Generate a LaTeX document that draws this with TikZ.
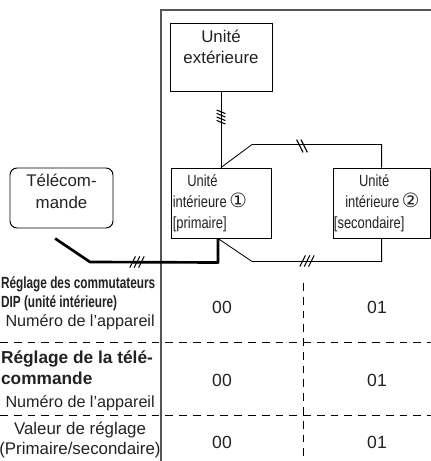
\documentclass[tikz,border=0pt]{standalone}
\usepackage{fontspec}
\setmainfont{Liberation Sans}
\newfontfamily\narrowfont[FakeStretch=0.8]{Liberation Sans}
\newfontfamily\condfont[FakeStretch=0.73]{Liberation Sans}
\newfontfamily\circfont{DejaVu Sans}
\usepackage{tikz}
\usetikzlibrary{positioning}
\definecolor{InkGray}{HTML}{222222}
\definecolor{FrameGray}{HTML}{555555}
\tikzset{
  unitbox/.style={
    draw=black,line width=0.7pt,fill=white,inner sep=0pt
  },
  remotebox/.style={
    draw=black,line width=0.7pt,rounded corners=5pt,inner sep=0pt,
    minimum width=2.575cm,minimum height=1.5cm
  },
  boxtext/.style={
    font=\fontsize{12}{15.5}\selectfont,text=InkGray,align=center,inner sep=0pt
  },
  unittext/.style={
    font=\narrowfont\fontsize{11.5}{15}\selectfont,text=InkGray,align=left,inner sep=0pt
  },
  wire/.style={draw=black,line width=0.6pt},
  thickwire/.style={draw=black,line width=1.9pt},
  slashmark/.style={draw=black,line width=0.75pt},
  gridline/.style={draw=black,line width=0.6pt,dash pattern=on 5.5pt off 4.3pt},
  frameline/.style={draw=FrameGray,line width=1pt},
  headtext/.style={text=InkGray,align=left,inner sep=0pt},
  celltext/.style={font=\fontsize{11.5}{14}\selectfont,text=InkGray,inner sep=0pt},
  valtext/.style={font=\fontsize{12.5}{15}\selectfont,text=InkGray,inner sep=0pt},
}
\newcommand{\circno}[1]{{\circfont\fontsize{14}{14}\selectfont #1}}

\begin{document}
\begin{tikzpicture}
  \useasboundingbox (0,0) rectangle (10.775,-11.525);
  \clip (0,0) rectangle (10.775,-11.525);
  % frame of the installation side
  \draw[frameline] (10.8,-0.25) -- (4.025,-0.25) -- (4.025,-11.6);
  % units
  \node[unitbox,minimum width=2.55cm,minimum height=1.7cm] (ext) at (5.525,-1.425) {};
  \node[boxtext,below=0.17cm of ext.north] (extlbl) {Unité\\extérieure};
  \node[unitbox,minimum width=2.5cm,minimum height=1.75cm] (in1) at (5.525,-5.075) {};
  \node[unittext,anchor=north west] (in1lbl) at ([shift={(0.05cm,-0.17cm)}]in1.north west)
    {\hspace{0.9em}Unité\\intérieure\,\circno{①}\\{[primaire]}};
  \node[unitbox,minimum width=2.43cm,minimum height=1.75cm] (in2) at (9.54,-5.075) {};
  \node[unittext,anchor=north west] (in2lbl) at ([shift={(0.03cm,-0.17cm)}]in2.north west)
    {\hspace{1.55em}Unité\\\hspace{0.7em}intérieure\,\circno{②}\\{[secondaire]}};
  \node[remotebox] (rc) at (1.5375,-4.95) {};
  \node[boxtext,below=0.16cm of rc.north] (rclbl) {Télécom-\\mande};
  % wiring
  \coordinate (in1foot) at ([xshift=-0.075cm]in1.south);
  \coordinate (rcend) at ([shift={(-0.16cm,-0.25cm)}]rc.south);
  \draw[wire] (ext.south) -- (in1.north);
  \draw[wire] (in1.north) -- ++(0.775,0.575) -| (in2.north);
  \draw[wire] (in1foot) -- ++(0.85,-0.575) -| (in2.south);
  \draw[thickwire,line join=round] (in1foot) -- ++(0,-0.6) -- (2.25,-6.55) -- (rcend);
  % slash marks on the wires
  \foreach \dy in {-0.13,-0.045,0.045,0.13}
    \draw[slashmark] ([shift={(-0.11,\dy+0.045)}]5.525,-2.925) -- ++(0.22,-0.09);
  \foreach \dx in {-0.055,0.055}
    \draw[slashmark] ([shift={(\dx-0.08,0.16)}]7.55,-3.65) -- ++(0.16,-0.32);
  \foreach \dx in {-0.11,0,0.11}
    \draw[slashmark] ([shift={(\dx-0.07,-0.14)}]7.675,-6.525) -- ++(0.14,0.28);
  \foreach \dx in {-0.11,0,0.11}
    \draw[slashmark] ([shift={(\dx-0.07,-0.14)}]3.425,-6.55) -- ++(0.14,0.28);
  % settings table
  \draw[gridline] (0,-8.55) -- (10.775,-8.55);
  \draw[gridline] (0,-10.375) -- (10.775,-10.375);
  \draw[gridline] (7.575,-7.075) -- (7.575,-11.6);
  \node[headtext,font=\condfont\bfseries\fontsize{11.5}{13.2}\selectfont,anchor=west] (r1head) at (0.02,-7.35)
    {Réglage des commutateurs\\DIP (unité intérieure)};
  \node[celltext,anchor=east] (r1num) at (3.875,-8.05) {Numéro de l’appareil};
  \node[headtext,font=\bfseries\fontsize{12.3}{14.5}\selectfont,anchor=west] (r2head) at (0.02,-9.19)
    {Réglage de la télé-\\commande};
  \node[celltext,anchor=east] (r2num) at (3.875,-10.075) {Numéro de l’appareil};
  \node[celltext,font=\fontsize{12}{14.5}\selectfont,align=center] (r3set) at (2.0,-11.0)
    {Valeur de réglage\\(Primaire/secondaire)};
  \node[valtext] (v11) at (5.55,-7.675) {00};
  \node[valtext] (v12) at (9.425,-7.675) {01};
  \node[valtext] (v21) at (5.55,-9.5) {00};
  \node[valtext] (v22) at (9.425,-9.5) {01};
  \node[valtext] (v31) at (5.55,-11.05) {00};
  \node[valtext] (v32) at (9.425,-11.05) {01};
\end{tikzpicture}
\end{document}
